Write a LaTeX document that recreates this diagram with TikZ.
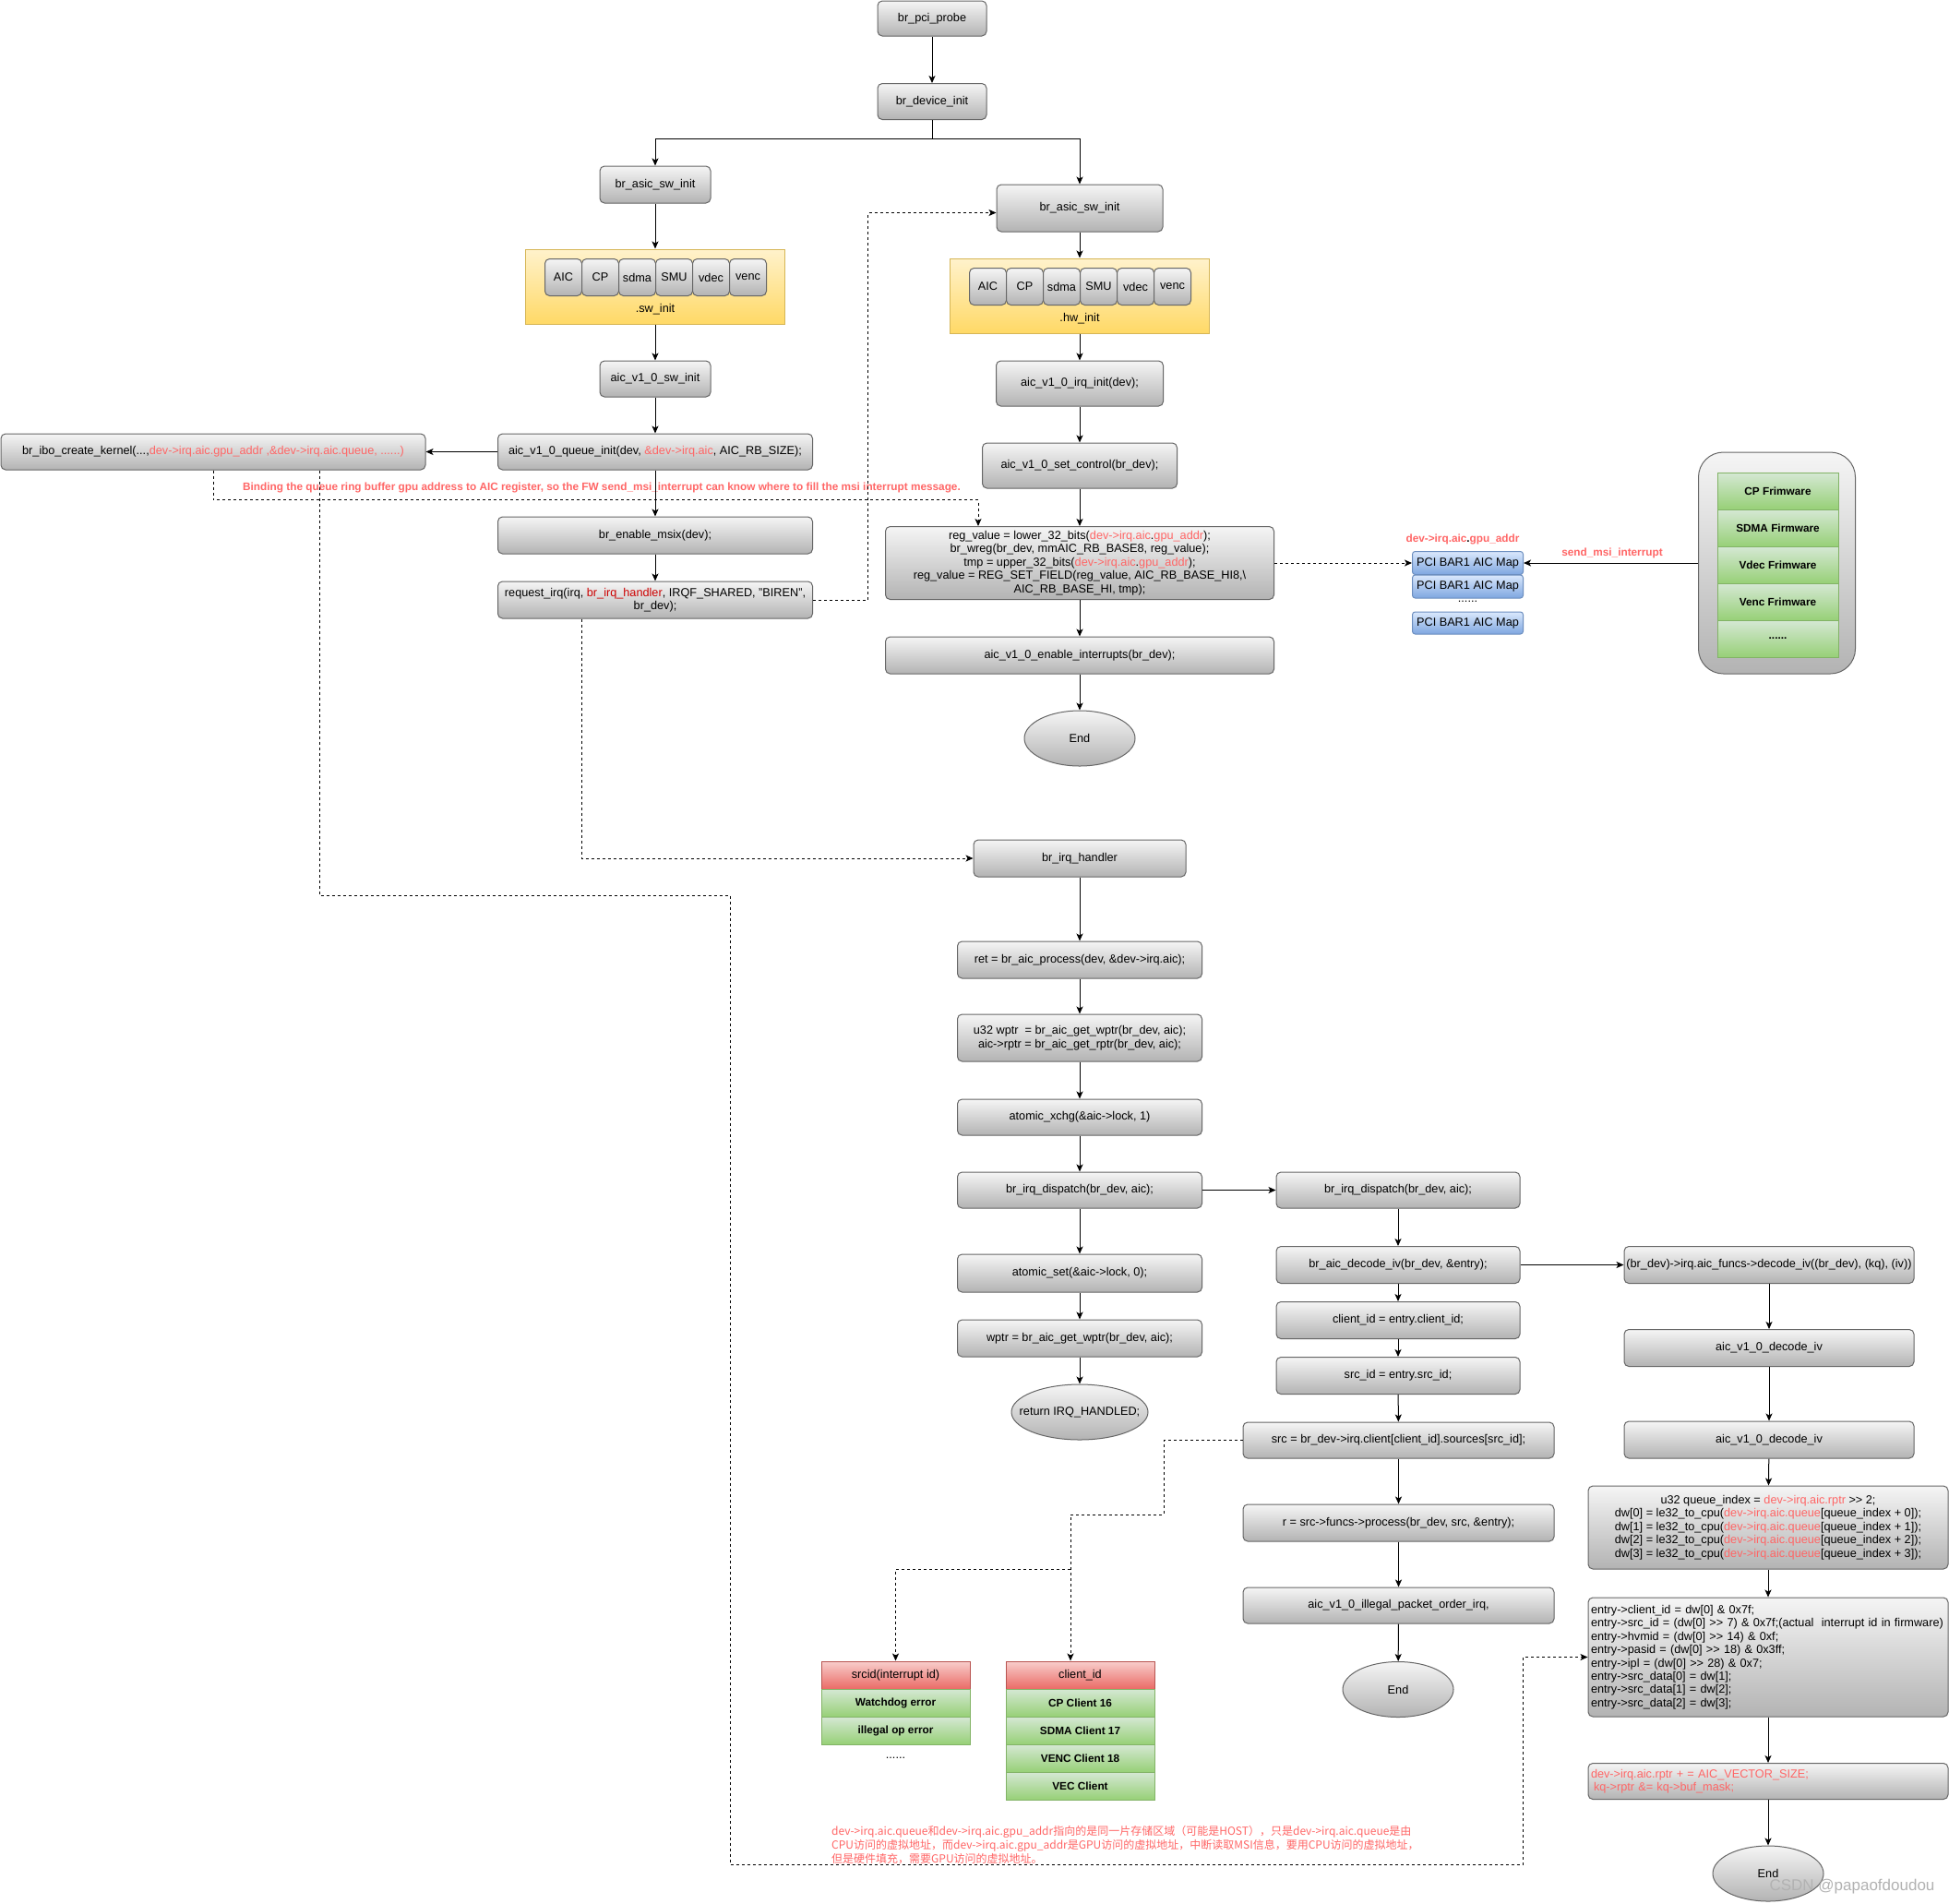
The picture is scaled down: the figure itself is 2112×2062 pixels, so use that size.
\documentclass[tikz,border=0pt]{standalone}
\usepackage{fontspec}
\setmainfont{Liberation Sans}
\newfontfamily\cjkfont{Noto Sans CJK SC}
\usetikzlibrary{arrows.meta,shapes.geometric}
\definecolor{gtop}{HTML}{F5F5F5}
\definecolor{gbot}{HTML}{B3B3B3}
\definecolor{gstroke}{HTML}{666666}
\definecolor{ytop}{HTML}{FFF2CC}
\definecolor{ybot}{HTML}{FFD966}
\definecolor{ystroke}{HTML}{D6B656}
\definecolor{grtop}{HTML}{D5E8D4}
\definecolor{grbot}{HTML}{97D077}
\definecolor{grstroke}{HTML}{82B366}
\definecolor{rtop}{HTML}{F8CECC}
\definecolor{rbot}{HTML}{EA6B66}
\definecolor{rstroke}{HTML}{B85450}
\definecolor{btop}{HTML}{DAE8FC}
\definecolor{bbot}{HTML}{7EA6E0}
\definecolor{bstroke}{HTML}{6C8EBF}
\definecolor{redtxt}{HTML}{FF6666}
\definecolor{darkred}{HTML}{CC0000}
\newcommand\mainfs{\fontsize{12.7}{14.4}\selectfont}
\newcommand\boldfs{\bfseries\fontsize{11.8}{14}\selectfont}
\newcommand\redt[1]{\textcolor{redtxt}{#1}}
\begin{document}
\begin{tikzpicture}[x=1pt,y=-1pt,
  every node/.style={font=\mainfs, inner sep=2pt},
  gbox/.style={draw=gstroke, line width=1pt, top color=gtop, bottom color=gbot, rounded corners=5pt, align=center},
  gell/.style={ellipse, draw=gstroke, line width=1pt, top color=gtop, bottom color=gbot, inner sep=0pt},
  ybox/.style={draw=ystroke, line width=1pt, top color=ytop, bottom color=ybot},
  btn/.style={gbox, minimum width=40, minimum height=40, inner sep=0pt},
  greenrow/.style={draw=grstroke, line width=1pt, top color=grtop, bottom color=grbot, font=\boldfs},
  rhead/.style={draw=rstroke, line width=1pt, top color=rtop, bottom color=rbot, font=\boldfs},
  bbox/.style={draw=bstroke, line width=1pt, top color=btop, bottom color=bbot, rounded corners=3pt},
  arr/.style={-{Stealth[length=8pt,width=7pt,inset=2pt]}, line width=1pt},
  darr/.style={arr, dash pattern=on 3pt off 3pt},
  redlab/.style={text=redtxt, font=\boldfs},
]
\fill[white] (0,0) rectangle (2112,2062);
\useasboundingbox (0,0) rectangle (2112,2062);

% ---- top
\node[gbox, minimum width=118, minimum height=38] (pci) at (1010,20) {br\_pci\_probe};
\node[gbox, minimum width=118, minimum height=39] (dev) at (1010,110) {br\_device\_init};
\coordinate (split) at (1010,150);

% ---- left column
\node[gbox, minimum width=120, minimum height=40] (asicL) at (710,200) {br\_asic\_sw\_init};
\node[ybox, minimum width=281, minimum height=81] (sw) at (710,310.5) {};
\node[btn] (swb1) at (610.5,300.5) {AIC};
\node[btn] (swb2) at (650.5,300.5) {CP};
\node[btn] (swb3) at (690.5,300.5) {sdma};
\node[btn] (swb4) at (730.5,300.5) {SMU};
\node[btn] (swb5) at (770.5,300.5) {vdec};
\node[btn] (swb6) at (810.5,300.5) {venc};
\node (swlab) at (710,335) {.sw\_init};
\node[gbox, minimum width=120, minimum height=39] (aicsw) at (710,410.5) {aic\_v1\_0\_sw\_init};
\node[gbox, minimum width=341, minimum height=39] (qinit) at (710,489.5) {aic\_v1\_0\_queue\_init(dev, \redt{\&dev->irq.aic}, AIC\_RB\_SIZE);};
\node[gbox, minimum width=460, minimum height=39] (ibo) at (231,489.5) {br\_ibo\_create\_kernel(...,\redt{dev->irq.aic.gpu\_addr ,\&dev->irq.aic.queue, ......)}};
\node[redlab] (bind) at (652,528) {Binding the queue ring buffer gpu address to AIC register, so the FW send\_msi\_interrupt can know where to fill the msi interrupt message.};
\node[gbox, minimum width=341, minimum height=40] (msix) at (710,580) {br\_enable\_msix(dev);};
\node[gbox, minimum width=341, minimum height=40] (reqirq) at (710,650) {request\_irq(irq, \textcolor{darkred}{br\_irq\_handler}, IRQF\_SHARED, "BIREN",\\ br\_dev);};

% ---- right column
\node[gbox, minimum width=180, minimum height=51] (asicR) at (1170,225.5) {br\_asic\_sw\_init};
\node[ybox, minimum width=281, minimum height=81] (hw) at (1170,320.5) {};
\node[btn] (hwb1) at (1070.5,310.5) {AIC};
\node[btn] (hwb2) at (1110.5,310.5) {CP};
\node[btn] (hwb3) at (1150.5,310.5) {sdma};
\node[btn] (hwb4) at (1190.5,310.5) {SMU};
\node[btn] (hwb5) at (1230.5,310.5) {vdec};
\node[btn] (hwb6) at (1270.5,310.5) {venc};
\node (hwlab) at (1170,345) {.hw\_init};
\node[gbox, minimum width=181, minimum height=49] (irqinit) at (1170,415.5) {aic\_v1\_0\_irq\_init(dev);};
\node[gbox, minimum width=211, minimum height=49] (setctl) at (1170,504.5) {aic\_v1\_0\_set\_control(br\_dev);};
\node[gbox, minimum width=421, minimum height=79] (regval) at (1170,610) {reg\_value = lower\_32\_bits(\redt{dev->irq.aic}.\redt{gpu\_addr});\\
br\_wreg(br\_dev, mmAIC\_RB\_BASE8, reg\_value);\\
tmp = upper\_32\_bits(\redt{dev->irq.aic}.\redt{gpu\_addr});\\
reg\_value = REG\_SET\_FIELD(reg\_value, AIC\_RB\_BASE\_HI8,\textbackslash\\
AIC\_RB\_BASE\_HI, tmp);};
\node[gbox, minimum width=421, minimum height=40] (enint) at (1170,710) {aic\_v1\_0\_enable\_interrupts(br\_dev);};
\node[gell, minimum width=120, minimum height=60] (end1) at (1170,800) {End};

% ---- PCI map and firmware
\node[redlab] (gpuaddr) at (1585,584) {dev->irq.aic\textcolor{black}{.}gpu\_addr};
\node[bbox, minimum width=120, minimum height=25] (pci1) at (1590.5,610) {PCI BAR1 AIC Map};
\node[bbox, minimum width=120, minimum height=25] (pci2) at (1590.5,635.5) {PCI BAR1 AIC Map};
\node (pdots) at (1590.5,652) {......};
\node[bbox, minimum width=120, minimum height=24] (pci3) at (1590.5,675) {PCI BAR1 AIC Map};
\node[redlab] (sendmsi) at (1747,599) {send\_msi\_interrupt};
\node[gbox, rounded corners=27pt, minimum width=170, minimum height=240] (fw) at (1925.5,610) {};
\node[greenrow, minimum width=131, minimum height=40] (fw1) at (1926.5,532) {CP Frimware};
\node[greenrow, minimum width=131, minimum height=40] (fw2) at (1926.5,572) {SDMA Firmware};
\node[greenrow, minimum width=131, minimum height=40] (fw3) at (1926.5,612) {Vdec Frimware};
\node[greenrow, minimum width=131, minimum height=40] (fw4) at (1926.5,652) {Venc Frimware};
\node[greenrow, minimum width=131, minimum height=40] (fw5) at (1926.5,692) {......};

% ---- irq handler column
\node[gbox, minimum width=230, minimum height=40] (irqh) at (1170,930) {br\_irq\_handler};
\node[gbox, minimum width=265, minimum height=40] (ret) at (1170,1040) {ret = br\_aic\_process(dev, \&dev->irq.aic);};
\node[gbox, minimum width=265, minimum height=51] (wptr1) at (1170,1124.5) {u32 wptr~ = br\_aic\_get\_wptr(br\_dev, aic);\\ aic->rptr = br\_aic\_get\_rptr(br\_dev, aic);};
\node[gbox, minimum width=265, minimum height=39] (xchg) at (1170,1210.5) {atomic\_xchg(\&aic->lock, 1)};
\node[gbox, minimum width=265, minimum height=39] (dispL) at (1170,1289.5) {br\_irq\_dispatch(br\_dev, aic);};
\node[gbox, minimum width=265, minimum height=41] (aset) at (1170,1379.5) {atomic\_set(\&aic->lock, 0);};
\node[gbox, minimum width=265, minimum height=40] (wptr2) at (1170,1450) {wptr = br\_aic\_get\_wptr(br\_dev, aic);};
\node[gell, minimum width=148, minimum height=60, label={center:return IRQ\_HANDLED;}] (reth) at (1170,1530) {};

% ---- dispatch column
\node[gbox, minimum width=264, minimum height=39] (dispR) at (1515,1289.5) {br\_irq\_dispatch(br\_dev, aic);};
\node[gbox, minimum width=264, minimum height=40] (dec) at (1515,1370.5) {br\_aic\_decode\_iv(br\_dev, \&entry);};
\node[gbox, minimum width=264, minimum height=40] (cid) at (1515,1430.5) {client\_id = entry.client\_id;};
\node[gbox, minimum width=264, minimum height=40] (sid) at (1515,1490.5) {src\_id = entry.src\_id;};
\node[gbox, minimum width=337, minimum height=39] (src) at (1515.5,1560.5) {src = br\_dev->irq.client[client\_id].sources[src\_id];};
\node[gbox, minimum width=337, minimum height=40] (rproc) at (1515.5,1650) {r = src->funcs->process(br\_dev, src, \&entry);};
\node[gbox, minimum width=337, minimum height=39] (illeg) at (1515.5,1739.5) {aic\_v1\_0\_illegal\_packet\_order\_irq,};
\node[gell, minimum width=120, minimum height=60] (end2) at (1515,1830.5) {End};

% ---- decode column
\node[gbox, minimum width=314, minimum height=40, inner sep=0pt] (funcs) at (1917,1370.5) {(br\_dev)->irq.aic\_funcs->decode\_iv((br\_dev), (kq), (iv))};
\node[gbox, minimum width=314, minimum height=40] (div1) at (1917,1460.5) {aic\_v1\_0\_decode\_iv};
\node[gbox, minimum width=314, minimum height=40] (div2) at (1917,1560) {aic\_v1\_0\_decode\_iv};
\node[gbox, minimum width=390, minimum height=90] (qidx) at (1916,1655) {u32 queue\_index = \redt{dev->irq.aic.rptr} >{}> 2;\\
dw[0] = le32\_to\_cpu(\redt{dev->irq.aic.queue}[queue\_index + 0]);\\
dw[1] = le32\_to\_cpu(\redt{dev->irq.aic.queue}[queue\_index + 1]);\\
dw[2] = le32\_to\_cpu(\redt{dev->irq.aic.queue}[queue\_index + 2]);\\
dw[3] = le32\_to\_cpu(\redt{dev->irq.aic.queue}[queue\_index + 3]);};
\node[gbox, text width=384, inner sep=3pt, minimum height=129, align=left] (entry) at (1916,1795.5) {entry->client\_id = dw[0] \& 0x7f;\\
entry->src\_id = (dw[0] >{}> 7) \& 0x7f;(actual~ interrupt id in firmware)\\
entry->hvmid = (dw[0] >{}> 14) \& 0xf;\\
entry->pasid = (dw[0] >{}> 18) \& 0x3ff;\\
entry->ipl = (dw[0] >{}> 28) \& 0x7;\\
entry->src\_data[0] = dw[1];\\
entry->src\_data[1] = dw[2];\\
entry->src\_data[2] = dw[3];};
\node[gbox, text width=384, inner sep=3pt, minimum height=39, align=left, text=redtxt] (rptr) at (1916,1930) {dev->irq.aic.rptr + = AIC\_VECTOR\_SIZE;\\
\hspace*{3pt}kq->rptr \&= kq->buf\_mask;};
\node[gell, minimum width=120, minimum height=60] (end3) at (1916,2030) {End};

% ---- tables
\node[rhead, minimum width=161, minimum height=30, font=\mainfs] (shead) at (970.5,1815) {srcid(interrupt id)};
\node[greenrow, minimum width=161, minimum height=30] (srow1) at (970.5,1845) {Watchdog error};
\node[greenrow, minimum width=161, minimum height=30] (srow2) at (970.5,1875) {illegal op error};
\node (sdots) at (970.5,1905) {......};
\node[rhead, minimum width=161, minimum height=30, font=\mainfs] (chead) at (1170.5,1815) {client\_id};
\node[greenrow, minimum width=161, minimum height=30] (crow1) at (1170.5,1845) {CP Client 16};
\node[greenrow, minimum width=161, minimum height=30] (crow2) at (1170.5,1875) {SDMA Client 17};
\node[greenrow, minimum width=161, minimum height=30] (crow3) at (1170.5,1905) {VENC Client 18};
\node[greenrow, minimum width=161, minimum height=30] (crow4) at (1170.5,1935) {VEC Client};

\node[anchor=west, align=left, text=redtxt, font=\cjkfont\fontsize{12}{15}\selectfont] (note) at (899,1999) {dev->irq.aic.queue和dev->irq.aic.gpu\_addr指向的是同一片存储区域（可能是HOST），只是dev->irq.aic.queue是由\\
CPU访问的虚拟地址，而dev->irq.aic.gpu\_addr是GPU访问的虚拟地址，中断读取MSI信息，要用CPU访问的虚拟地址，\\
但是硬件填充，需要GPU访问的虚拟地址。};

\node[text=gray!60, font=\fontsize{17}{20}\selectfont] (wm) at (2007,2044) {CSDN @papaofdoudou};

% ---- coordinates for dashed routes
\coordinate (q1) at (791,970);
\coordinate (q2) at (791,2020);
\coordinate (q3) at (1650,2020);
\coordinate (s1) at (1261,1641);
\coordinate (s2) at (1160,1700);

% ---- solid arrows
\draw[arr] (pci) -- (dev);
\draw[arr] (dev.south) -- (split) -| (asicL.north);
\draw[arr] (split) -| (asicR.north);
\draw[arr] (asicL) -- (sw);
\draw[arr] (sw) -- (aicsw);
\draw[arr] (aicsw) -- (qinit);
\draw[arr] (qinit) -- (ibo);
\draw[arr] (qinit) -- (msix);
\draw[arr] (msix) -- (reqirq);
\draw[arr] (asicR) -- (hw);
\draw[arr] (hw) -- (irqinit);
\draw[arr] (irqinit) -- (setctl);
\draw[arr] (setctl) -- (regval);
\draw[arr] (regval) -- (enint);
\draw[arr] (enint) -- (end1);
\draw[arr] (fw.west) -- (pci1.east);
\draw[arr] (irqh) -- (ret);
\draw[arr] (ret) -- (wptr1);
\draw[arr] (wptr1) -- (xchg);
\draw[arr] (xchg) -- (dispL);
\draw[arr] (dispL) -- (aset);
\draw[arr] (aset) -- (wptr2);
\draw[arr] (wptr2) -- (reth);
\draw[arr] (dispL) -- (dispR);
\draw[arr] (dispR) -- (dec);
\draw[arr] (dec) -- (cid);
\draw[arr] (cid) -- (sid);
\draw[arr] (sid) -- (src);
\draw[arr] (src) -- (rproc);
\draw[arr] (rproc) -- (illeg);
\draw[arr] (illeg) -- (end2);
\draw[arr] (dec) -- (funcs);
\draw[arr] (funcs) -- (div1);
\draw[arr] (div1) -- (div2);
\draw[arr] (div2) -- (qidx);
\draw[arr] (qidx) -- (entry);
\draw[arr] (entry) -- (rptr);
\draw[arr] (rptr) -- (end3);

% ---- dashed arrows
\draw[darr] (ibo.south) -- ++(0,32) -| ([xshift=-110pt]regval.north);
\draw[darr] (reqirq.east) -- ++(59.5,0) |- ([yshift=-5pt]asicR.west);
\draw[darr] ([xshift=-80pt]reqirq.south) |- (irqh.west);
\draw[darr] (regval.east) -- (pci1.west);
\draw[darr] ([xshift=115pt]ibo.south) |- (q1) -- (q2) -- (q3) |- (entry.west);
\draw[darr] (src.west) -| (s1) -| ([xshift=-10.5pt]chead.north);
\draw[darr] (s2) -| (shead.north);
\end{tikzpicture}
\end{document}
